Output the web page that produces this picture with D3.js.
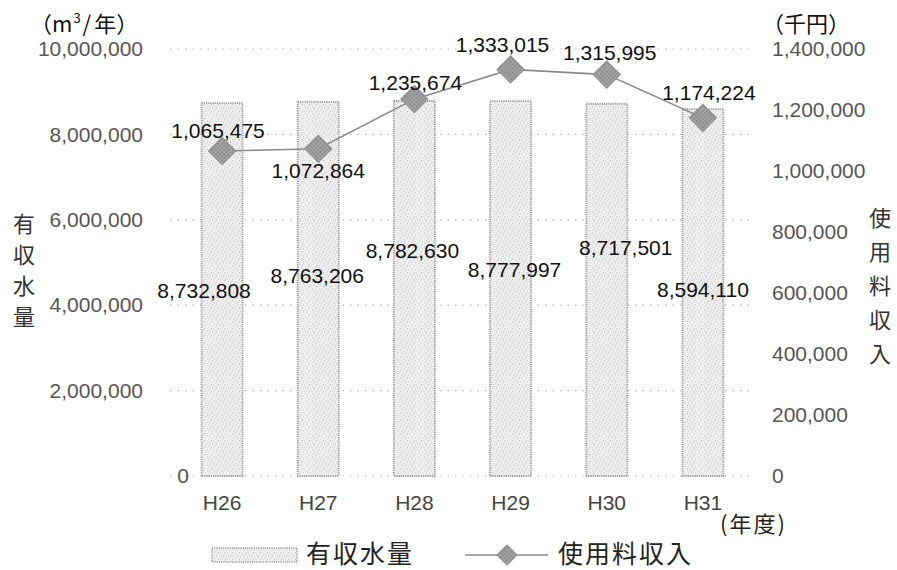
<!DOCTYPE html>
<html>
<head>
<meta charset="utf-8">
<script src="https://cdn.jsdelivr.net/npm/d3@7/dist/d3.min.js"></script>
<style>
  body { margin: 0; background: #fff; }
  svg { display: block; }
  text { font-family: "Liberation Sans", Arial, sans-serif; }
  .jp { font-family: "Noto Sans CJK JP", "Noto Sans CJK SC", sans-serif; }
</style>
</head>
<body>
<svg id="chart" width="897" height="570"></svg>
<script>
// Fiscal years (Heisei era)
const years = ["H26", "H27", "H28", "H29", "H30", "H31"];
// Billed water volume (m3 / year)
const volume = [8732808, 8763206, 8782630, 8777997, 8717501, 8594110];
// Usage fee revenue (thousand yen)
const revenue = [1065475, 1072864, 1235674, 1333015, 1315995, 1174224];
// Axis ticks
const leftTicks = [0, 2000000, 4000000, 6000000, 8000000, 10000000];
const rightTicks = [0, 200000, 400000, 600000, 800000, 1000000, 1200000, 1400000];

// Label placement nudges (pixels) relative to each mark
const volLabelDx = [-18, -1, -2, 4, 19, 0];
const volLabelY = [298, 283, 258, 277, 255, 297];
const revLabelDx = [-4, 0, 1, -8, 3, 6];
const revLabelDy = [-13, 29, -9, -17, -15, -18];

const svg = d3.select("#chart");
const x0 = 174, x1 = 751, yTop = 49, yBot = 476;

const x = d3.scaleBand().domain(years).range([x0, x1]).paddingInner(0.574).paddingOuter(0.287);
const yL = d3.scaleLinear().domain([0, 10000000]).range([yBot, yTop]);
const yR = d3.scaleLinear().domain([0, 1400000]).range([yBot, yTop]);
const fmt = d3.format(",");

// Stipple texture for the volume bars
const defs = svg.append("defs");
const pat = defs.append("pattern").attr("id", "stipple")
  .attr("patternUnits", "userSpaceOnUse").attr("width", 7).attr("height", 7);
pat.append("rect").attr("width", 7).attr("height", 7).attr("fill", "#f0f0f0");
[[0.5,0.5],[4,1.5],[2,3.5],[5.5,4.5],[1,6],[3.5,6.5],[6,2.5]].forEach(p => {
  pat.append("rect").attr("x", p[0]).attr("y", p[1]).attr("width", 0.8).attr("height", 0.8).attr("fill", "#a8a8a8");
});
const hatch = defs.append("pattern").attr("id", "hatch")
  .attr("patternUnits", "userSpaceOnUse").attr("width", 3).attr("height", 3);
hatch.append("rect").attr("width", 3).attr("height", 3).attr("fill", "#a4a4a4");
hatch.append("rect").attr("width", 1.5).attr("height", 1.5).attr("fill", "#7c7c7c");

// Dotted gridlines
svg.append("g").selectAll("line").data(leftTicks).join("line")
  .attr("x1", x0 - 4).attr("x2", x1 + 4)
  .attr("y1", d => yL(d)).attr("y2", d => yL(d))
  .attr("stroke", "#b5b5b5").attr("stroke-width", 1.2).attr("stroke-dasharray", "1.5,6");

// Left axis
const gL = svg.append("g").attr("transform", `translate(${x0},0)`)
  .call(d3.axisLeft(yL).tickValues(leftTicks).tickFormat(fmt).tickSize(0).tickPadding(31));
gL.select(".domain").remove();
gL.selectAll("text").attr("font-size", 21).attr("fill", "#555")
  .attr("font-family", "Liberation Sans, Arial, sans-serif");
// The zero label sits just left of the first bar
gL.selectAll(".tick").filter(d => d === 0).select("text").attr("x", 15);

// Right axis
const gR = svg.append("g").attr("transform", `translate(${x1},0)`)
  .call(d3.axisRight(yR).tickValues(rightTicks).tickFormat(fmt).tickSize(0).tickPadding(21));
gR.select(".domain").remove();
gR.selectAll("text").attr("font-size", 21).attr("fill", "#555")
  .attr("font-family", "Liberation Sans, Arial, sans-serif");

// Category axis
const gX = svg.append("g").attr("transform", `translate(0,${yBot})`)
  .call(d3.axisBottom(x).tickSize(0).tickPadding(19));
gX.select(".domain").remove();
gX.selectAll("text").attr("font-size", 21).attr("fill", "#444")
  .attr("font-family", "Liberation Sans, Arial, sans-serif");

// Volume bars
svg.append("g").selectAll("rect").data(volume).join("rect")
  .attr("x", (d, i) => x(years[i]))
  .attr("y", d => yL(d))
  .attr("width", x.bandwidth())
  .attr("height", d => yL(0) - yL(d))
  .attr("fill", "url(#stipple)")
  .attr("stroke", "#9d9d9d").attr("stroke-width", 1.8).attr("stroke-dasharray", "1.2,1");

// Revenue line
const cx = i => x(years[i]) + x.bandwidth() / 2;
svg.append("path").datum(revenue)
  .attr("d", d3.line().x((d, i) => cx(i)).y(d => yR(d)))
  .attr("fill", "none").attr("stroke", "#8a8a8a").attr("stroke-width", 1.6);

// Diamond markers
svg.append("g").selectAll("path").data(revenue).join("path")
  .attr("d", d3.symbol(d3.symbolSquare, 370))
  .attr("transform", (d, i) => `translate(${cx(i)},${yR(d)}) rotate(45)`)
  .attr("fill", "url(#hatch)").attr("stroke", "#8e8e8e").attr("stroke-width", 1);

// Volume labels
svg.append("g").selectAll("text").data(volume).join("text")
  .attr("x", (d, i) => cx(i) + volLabelDx[i])
  .attr("y", (d, i) => volLabelY[i])
  .attr("text-anchor", "middle").attr("font-size", 21).attr("fill", "#111")
  .text(d => fmt(d));

// Revenue labels
svg.append("g").selectAll("text").data(revenue).join("text")
  .attr("x", (d, i) => cx(i) + revLabelDx[i])
  .attr("y", (d, i) => yR(d) + revLabelDy[i])
  .attr("text-anchor", "middle").attr("font-size", 21).attr("fill", "#111")
  .text(d => fmt(d));

// Unit captions
const unitL = svg.append("text").attr("class", "jp").attr("x", 30).attr("y", 32)
  .attr("font-size", 22).attr("fill", "#111");
unitL.append("tspan").text("（m");
unitL.append("tspan").attr("font-size", 13).attr("dx", 1).attr("dy", -9).text("3");
unitL.append("tspan").attr("dx", 2).attr("dy", 9).text("/");
unitL.append("tspan").attr("dx", 3).text("年）");
svg.append("text").attr("class", "jp").attr("x", 762).attr("y", 32)
  .attr("font-size", 22).attr("fill", "#111").text("（千円）");
svg.append("text").attr("class", "jp").attr("x", 720).attr("y", 532)
  .attr("font-size", 22).attr("fill", "#222").attr("letter-spacing", 2).text("(年度)");

// Vertical axis titles
const titleL = "有収水量".split("");
svg.append("g").selectAll("text").data(titleL).join("text").attr("class", "jp")
  .attr("x", 24).attr("y", (d, i) => 232 + i * 31)
  .attr("text-anchor", "middle").attr("font-size", 22).attr("fill", "#333").text(d => d);
const titleR = "使用料収入".split("");
svg.append("g").selectAll("text").data(titleR).join("text").attr("class", "jp")
  .attr("x", 880).attr("y", (d, i) => 226 + i * 34)
  .attr("text-anchor", "middle").attr("font-size", 22).attr("fill", "#333").text(d => d);

// Legend
const lg = svg.append("g");
lg.append("rect").attr("x", 212).attr("y", 548).attr("width", 85).attr("height", 14)
  .attr("fill", "url(#stipple)").attr("stroke", "#9d9d9d").attr("stroke-width", 1.5)
  .attr("stroke-dasharray", "1.2,1");
lg.append("text").attr("class", "jp").attr("x", 306).attr("y", 563)
  .attr("font-size", 25).attr("fill", "#222").attr("letter-spacing", 2).text("有収水量");
lg.append("line").attr("x1", 465).attr("x2", 548).attr("y1", 555).attr("y2", 555)
  .attr("stroke", "#8a8a8a").attr("stroke-width", 1.6);
lg.append("path").attr("d", d3.symbol(d3.symbolSquare, 200))
  .attr("transform", "translate(507,555) rotate(45)")
  .attr("fill", "url(#hatch)").attr("stroke", "#8e8e8e");
lg.append("text").attr("class", "jp").attr("x", 558).attr("y", 563)
  .attr("font-size", 25).attr("fill", "#222").attr("letter-spacing", 2).text("使用料収入");
</script>
</body>
</html>
